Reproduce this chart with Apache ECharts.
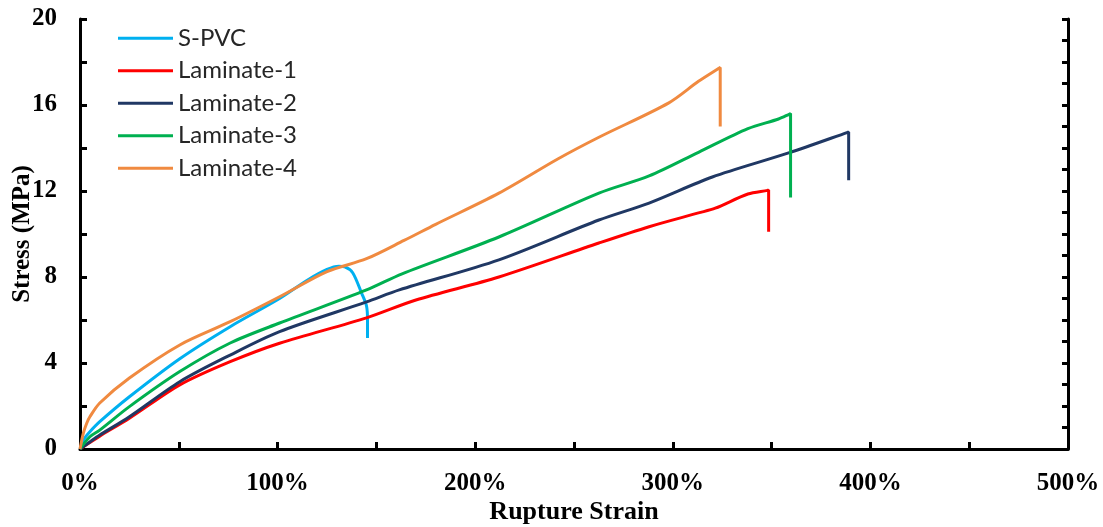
<!DOCTYPE html>
<html>
<head>
<meta charset="utf-8">
<script src="https://cdn.jsdelivr.net/npm/echarts@6/dist/echarts.min.js"></script>
<style>
  html, body { margin: 0; padding: 0; background: #fff; }
  #chart { width: 1103px; height: 527px; }
</style>
</head>
<body>
<div id="chart"></div>
<script>
// strain in %, stress in MPa
var spvcStrain = [0, 2, 5, 10, 25, 50.5, 76, 101, 115, 125, 131, 134, 138, 142.5, 145, 145.5, 145.5];
var spvcStress = [0, 0.45, 0.8, 1.27, 2.43, 4.2, 5.69, 7.0, 7.85, 8.35, 8.5, 8.47, 8.2, 7.25, 6.65, 6.0, 5.16];

var lam1Strain = [0, 5, 10, 25, 50.5, 76, 101, 145, 170, 212, 262.6, 288, 313, 321.5, 338, 348, 348.5, 348.5];
var lam1Stress = [0, 0.3, 0.6, 1.43, 2.98, 4.06, 4.92, 6.1, 6.93, 8.0, 9.58, 10.34, 10.98, 11.2, 11.86, 12.03, 12.05, 10.1];

var lam2Strain = [0, 5, 10, 25, 50.5, 76, 101, 145, 161.6, 212, 262.6, 288, 320, 358.6, 388.5, 389, 389];
var lam2Stress = [0, 0.33, 0.65, 1.5, 3.13, 4.37, 5.46, 6.84, 7.4, 8.8, 10.65, 11.44, 12.65, 13.77, 14.73, 14.75, 12.5];

var lam3Strain = [0, 5, 10, 25, 50.5, 76, 101, 145, 163, 212, 262.6, 288, 313, 338, 353.5, 359.1, 359.6, 359.6];
var lam3Stress = [0, 0.57, 0.88, 1.97, 3.6, 4.93, 5.86, 7.4, 8.15, 9.86, 11.9, 12.7, 13.8, 14.9, 15.35, 15.58, 15.6, 11.7];

var lam4Strain = [0, 1.7, 3.4, 5, 10, 25, 50.5, 76, 101, 125, 145, 164, 180, 212, 242, 262.6, 298, 313, 323.5, 324, 324];
var lam4Stress = [0, 0.74, 1.2, 1.5, 2.14, 3.3, 4.84, 5.92, 7.08, 8.25, 8.85, 9.7, 10.45, 11.9, 13.5, 14.5, 16.1, 17.1, 17.72, 17.75, 15.0];

var seriesNames = ['S-PVC', 'Laminate-1', 'Laminate-2', 'Laminate-3', 'Laminate-4'];
var seriesColors = ['#00B0F0', '#FF0000', '#203864', '#00B050', '#F08A40'];
var strainSets = [spvcStrain, lam1Strain, lam2Strain, lam3Strain, lam4Strain];
var stressSets = [spvcStress, lam1Stress, lam2Stress, lam3Stress, lam4Stress];

function pairs(xs, ys) {
  var out = [];
  for (var i = 0; i < xs.length; i++) out.push([xs[i], ys[i]]);
  return out;
}

var chart = echarts.init(document.getElementById('chart'));

var serif = 'Liberation Serif';
var series = [];
for (var k = 0; k < seriesNames.length; k++) {
  series.push({
    name: seriesNames[k],
    type: 'line',
    data: pairs(strainSets[k], stressSets[k]),
    showSymbol: false,
    symbol: 'none',
    smooth: 0.3,
    lineStyle: { width: 3, color: seriesColors[k] },
    itemStyle: { color: seriesColors[k] }
  });
}

var option = {
  animation: false,
  grid: { left: 80, right: 35, top: 19, bottom: 78, outerBoundsMode: 'none', containLabel: false },
  legend: {
    orient: 'vertical',
    left: 118,
    top: 26,
    padding: 0,
    icon: 'rect',
    itemWidth: 55,
    itemHeight: 3,
    itemGap: 8,
    data: seriesNames,
    textStyle: { fontFamily: 'Lato', fontSize: 24, color: '#262626', lineHeight: 24.5 }
  },
  xAxis: {
    type: 'value',
    min: 0,
    max: 500,
    interval: 100,
    name: 'Rupture Strain',
    nameLocation: 'middle',
    nameGap: 50,
    nameMoveOverlap: false,
    nameTextStyle: { fontFamily: serif, fontWeight: 'bold', fontSize: 26, color: '#000' },
    axisLine: { show: true, onZero: false, lineStyle: { color: '#000', width: 3 } },
    axisTick: { show: true, inside: true, length: 7, lineStyle: { color: '#000', width: 3 } },
    minorTick: { show: true, splitNumber: 2, length: 7, lineStyle: { color: '#000', width: 3 } },
    axisLabel: { formatter: '{value}%', margin: 22, fontFamily: serif, fontWeight: 'bold', fontSize: 25, color: '#000' },
    splitLine: { show: false }
  },
  yAxis: [{
    type: 'value',
    min: 0,
    max: 20,
    interval: 4,
    name: 'Stress (MPa)',
    nameLocation: 'middle',
    nameGap: 45,
    nameMoveOverlap: false,
    nameTextStyle: { fontFamily: serif, fontWeight: 'bold', fontSize: 25, color: '#000' },
    axisLine: { show: true, onZero: false, lineStyle: { color: '#000', width: 3 } },
    axisTick: { show: true, inside: true, length: 7, lineStyle: { color: '#000', width: 3 } },
    minorTick: { show: true, splitNumber: 2, length: 7, lineStyle: { color: '#000', width: 3 } },
    axisLabel: { margin: 23, fontFamily: serif, fontWeight: 'bold', fontSize: 25, color: '#000' },
    splitLine: { show: false }
  }, {
    // right frame with ticks every 1 MPa, no labels
    type: 'value',
    position: 'right',
    min: 0,
    max: 20,
    interval: 1,
    axisLine: { show: true, onZero: false, lineStyle: { color: '#000', width: 3 } },
    axisTick: { show: true, inside: true, length: 6, lineStyle: { color: '#000', width: 3 } },
    axisLabel: { show: false },
    splitLine: { show: false }
  }],
  series: series
};

chart.setOption(option);
</script>
</body>
</html>
